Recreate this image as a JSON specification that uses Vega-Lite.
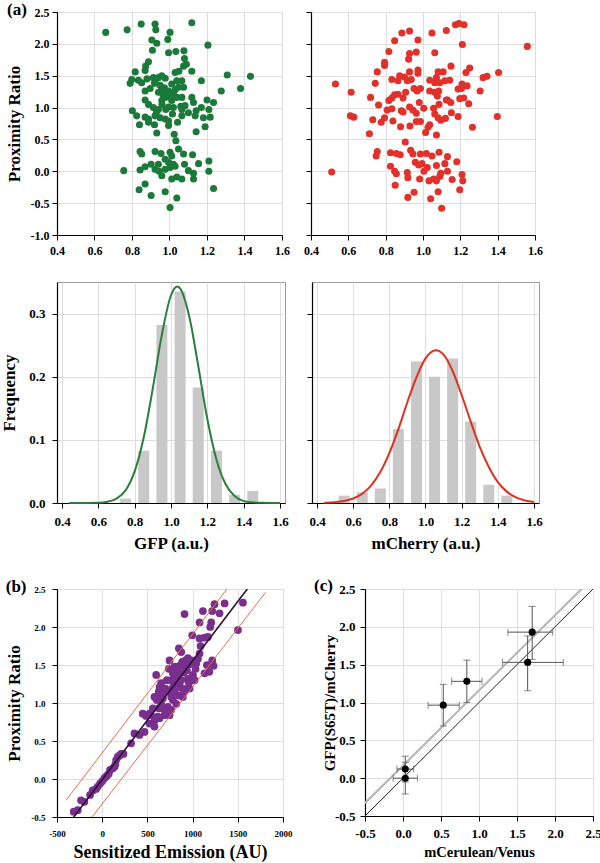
{
 "$schema": "https://vega.github.io/schema/vega-lite/v6.json",
 "padding": {"left": 0, "top": 0, "right": 0, "bottom": 0},
 "spacing": 24,
 "config": {
  "font": "Liberation Serif",
  "view": {"stroke": "#9a9a9a", "strokeWidth": 1},
  "axis": {"labelFont": "Liberation Serif", "labelFontWeight": "bold", "labelColor": "#000", "titleFont": "Liberation Serif", "titleFontWeight": "bold", "titleColor": "#000", "domainColor": "#000", "domainWidth": 1.2, "tickColor": "#000", "tickSize": 5, "gridColor": "#dedede", "gridWidth": 1, "labelFlush": false, "labelOverlap": false, "labelBound": false, "grid": true},
  "title": {"font": "Liberation Serif", "fontWeight": "bold", "fontSize": 17, "color": "#000", "anchor": "start", "offset": 0}
 },
 "datasets": {
  "gfp": [{"x":0.66,"y":2.18},{"x":0.774,"y":2.22},{"x":0.849,"y":2.31},{"x":0.923,"y":2.31},{"x":0.927,"y":2.22},{"x":1.003,"y":2.18},{"x":1.119,"y":2.33},{"x":0.906,"y":2.06},{"x":0.932,"y":2.01},{"x":0.991,"y":2.07},{"x":0.909,"y":1.9},{"x":0.995,"y":1.86},{"x":1.034,"y":1.88},{"x":1.077,"y":1.89},{"x":1.205,"y":1.98},{"x":1.08,"y":1.77},{"x":1.075,"y":1.65},{"x":1.09,"y":1.68},{"x":0.888,"y":1.72},{"x":0.873,"y":1.65},{"x":0.87,"y":1.58},{"x":0.817,"y":1.56},{"x":1.119,"y":1.57},{"x":1.05,"y":1.57},{"x":1.03,"y":1.55},{"x":1.17,"y":1.42},{"x":1.308,"y":1.51},{"x":1.432,"y":1.49},{"x":1.276,"y":1.26},{"x":1.379,"y":1.3},{"x":0.799,"y":1.44},{"x":0.79,"y":1.38},{"x":0.834,"y":1.43},{"x":0.852,"y":1.39},{"x":0.914,"y":1.47},{"x":0.923,"y":1.42},{"x":0.941,"y":1.47},{"x":0.959,"y":1.5},{"x":0.977,"y":1.46},{"x":1.012,"y":1.37},{"x":1.039,"y":1.42},{"x":1.048,"y":1.32},{"x":1.066,"y":1.42},{"x":1.075,"y":1.32},{"x":0.87,"y":1.26},{"x":0.897,"y":1.3},{"x":0.941,"y":1.24},{"x":0.959,"y":1.29},{"x":0.973,"y":1.31},{"x":0.986,"y":1.24},{"x":1.003,"y":1.18},{"x":0.995,"y":1.26},{"x":1.021,"y":1.21},{"x":1.039,"y":1.16},{"x":0.977,"y":1.16},{"x":0.959,"y":1.11},{"x":1.012,"y":1.11},{"x":1.066,"y":1.16},{"x":1.119,"y":1.16},{"x":1.128,"y":1.08},{"x":1.2,"y":1.12},{"x":1.235,"y":1.08},{"x":0.87,"y":1.12},{"x":0.888,"y":1.05},{"x":0.914,"y":1.0},{"x":0.941,"y":0.97},{"x":0.98,"y":0.97},{"x":0.995,"y":1.01},{"x":1.021,"y":1.0},{"x":1.066,"y":0.97},{"x":1.083,"y":1.03},{"x":1.101,"y":0.92},{"x":1.142,"y":0.95},{"x":1.17,"y":1.0},{"x":1.21,"y":0.97},{"x":0.802,"y":0.95},{"x":0.825,"y":0.87},{"x":0.87,"y":0.85},{"x":0.888,"y":0.82},{"x":0.923,"y":0.87},{"x":0.95,"y":0.84},{"x":0.977,"y":0.82},{"x":0.995,"y":0.79},{"x":1.016,"y":0.9},{"x":1.066,"y":0.87},{"x":1.137,"y":0.87},{"x":1.181,"y":0.84},{"x":1.217,"y":0.85},{"x":0.84,"y":0.73},{"x":0.888,"y":0.77},{"x":0.92,"y":0.73},{"x":0.995,"y":0.72},{"x":1.043,"y":0.77},{"x":1.19,"y":0.7},{"x":1.142,"y":0.62},{"x":0.932,"y":0.6},{"x":1.025,"y":0.58},{"x":1.034,"y":0.48},{"x":0.843,"y":0.31},{"x":0.852,"y":0.27},{"x":0.923,"y":0.31},{"x":0.955,"y":0.28},{"x":1.003,"y":0.3},{"x":1.012,"y":0.24},{"x":1.048,"y":0.35},{"x":1.075,"y":0.27},{"x":1.123,"y":0.26},{"x":0.977,"y":0.19},{"x":0.995,"y":0.14},{"x":1.021,"y":0.11},{"x":0.941,"y":0.11},{"x":0.902,"y":0.11},{"x":0.87,"y":0.07},{"x":0.843,"y":0.02},{"x":0.756,"y":0.01},{"x":0.923,"y":0.03},{"x":0.945,"y":0.0},{"x":0.977,"y":0.03},{"x":1.003,"y":0.06},{"x":1.03,"y":0.08},{"x":1.08,"y":0.11},{"x":1.101,"y":0.01},{"x":1.128,"y":-0.03},{"x":1.155,"y":0.12},{"x":1.21,"y":0.16},{"x":1.21,"y":0.0},{"x":0.959,"y":-0.07},{"x":1.012,"y":-0.12},{"x":1.039,"y":-0.09},{"x":1.066,"y":-0.12},{"x":1.128,"y":-0.12},{"x":0.87,"y":-0.2},{"x":0.838,"y":-0.29},{"x":1.235,"y":-0.27},{"x":0.977,"y":-0.32},{"x":0.902,"y":-0.38},{"x":1.039,"y":-0.42},{"x":1.003,"y":-0.57},{"x":1.0,"y":1.22},{"x":1.01,"y":1.15},{"x":0.965,"y":1.2},{"x":1.03,"y":1.28},{"x":0.95,"y":1.35},{"x":0.92,"y":1.38},{"x":0.88,"y":1.45},{"x":1.06,"y":1.02},{"x":0.93,"y":0.92},{"x":0.96,"y":1.05}],
  "mcherry": [{"x":1.174,"y":2.3},{"x":1.125,"y":2.21},{"x":1.192,"y":2.32},{"x":1.22,"y":2.3},{"x":1.048,"y":2.17},{"x":0.928,"y":2.2},{"x":0.887,"y":2.17},{"x":0.973,"y":2.06},{"x":0.848,"y":2.05},{"x":1.211,"y":1.99},{"x":1.559,"y":1.96},{"x":0.817,"y":1.88},{"x":0.928,"y":1.85},{"x":0.964,"y":1.87},{"x":1.063,"y":1.86},{"x":0.923,"y":1.76},{"x":0.794,"y":1.71},{"x":0.794,"y":1.66},{"x":0.755,"y":1.56},{"x":0.928,"y":1.56},{"x":0.973,"y":1.59},{"x":0.973,"y":1.54},{"x":1.081,"y":1.56},{"x":1.108,"y":1.56},{"x":1.15,"y":1.65},{"x":1.23,"y":1.55},{"x":1.25,"y":1.62},{"x":1.322,"y":1.47},{"x":1.343,"y":1.49},{"x":1.405,"y":1.55},{"x":0.531,"y":1.37},{"x":0.615,"y":1.24},{"x":0.744,"y":1.38},{"x":0.833,"y":1.44},{"x":0.866,"y":1.42},{"x":0.875,"y":1.5},{"x":0.901,"y":1.48},{"x":0.916,"y":1.42},{"x":0.937,"y":1.44},{"x":1.036,"y":1.43},{"x":1.063,"y":1.39},{"x":1.072,"y":1.47},{"x":1.09,"y":1.39},{"x":1.117,"y":1.42},{"x":1.143,"y":1.43},{"x":1.188,"y":1.29},{"x":1.209,"y":1.37},{"x":1.236,"y":1.34},{"x":1.206,"y":1.3},{"x":1.306,"y":1.26},{"x":0.952,"y":1.3},{"x":0.968,"y":1.26},{"x":0.986,"y":1.3},{"x":0.907,"y":1.24},{"x":1.036,"y":1.26},{"x":1.063,"y":1.24},{"x":1.077,"y":1.18},{"x":1.084,"y":1.26},{"x":0.719,"y":1.16},{"x":0.848,"y":1.2},{"x":0.833,"y":1.15},{"x":0.817,"y":1.11},{"x":0.866,"y":1.21},{"x":0.893,"y":1.15},{"x":0.98,"y":1.08},{"x":1.131,"y":1.12},{"x":1.149,"y":1.08},{"x":1.197,"y":1.14},{"x":1.218,"y":1.15},{"x":1.245,"y":1.06},{"x":0.762,"y":1.04},{"x":0.808,"y":0.96},{"x":0.833,"y":0.98},{"x":0.884,"y":0.95},{"x":0.893,"y":0.93},{"x":0.928,"y":1.01},{"x":0.946,"y":0.96},{"x":0.964,"y":0.91},{"x":1.004,"y":0.99},{"x":1.057,"y":0.99},{"x":1.086,"y":1.05},{"x":1.063,"y":0.9},{"x":1.081,"y":0.84},{"x":1.125,"y":1.12},{"x":1.152,"y":0.92},{"x":0.611,"y":0.87},{"x":0.629,"y":0.85},{"x":0.731,"y":0.81},{"x":0.794,"y":0.84},{"x":0.776,"y":0.77},{"x":0.839,"y":0.79},{"x":0.964,"y":0.78},{"x":0.986,"y":0.78},{"x":0.88,"y":0.7},{"x":0.93,"y":0.71},{"x":1.036,"y":0.73},{"x":1.027,"y":0.69},{"x":1.095,"y":0.8},{"x":1.12,"y":0.83},{"x":1.188,"y":0.86},{"x":1.398,"y":0.86},{"x":1.265,"y":0.69},{"x":0.713,"y":0.59},{"x":1.014,"y":0.61},{"x":1.072,"y":0.57},{"x":0.905,"y":0.46},{"x":0.755,"y":0.31},{"x":0.749,"y":0.24},{"x":0.826,"y":0.29},{"x":0.857,"y":0.28},{"x":0.878,"y":0.26},{"x":0.934,"y":0.33},{"x":0.946,"y":0.27},{"x":0.986,"y":0.27},{"x":1.018,"y":0.28},{"x":1.048,"y":0.24},{"x":1.086,"y":0.3},{"x":1.131,"y":0.23},{"x":1.181,"y":0.15},{"x":0.959,"y":0.14},{"x":0.977,"y":0.1},{"x":0.995,"y":0.12},{"x":1.023,"y":0.06},{"x":1.072,"y":0.09},{"x":1.117,"y":0.12},{"x":0.826,"y":0.08},{"x":0.848,"y":0.0},{"x":0.857,"y":-0.04},{"x":0.916,"y":-0.02},{"x":0.919,"y":-0.1},{"x":1.005,"y":0.0},{"x":0.982,"y":-0.12},{"x":1.032,"y":-0.15},{"x":1.057,"y":-0.12},{"x":1.072,"y":-0.15},{"x":1.09,"y":-0.08},{"x":1.095,"y":-0.03},{"x":1.131,"y":0.0},{"x":1.156,"y":-0.13},{"x":1.209,"y":-0.05},{"x":1.213,"y":-0.15},{"x":0.511,"y":-0.01},{"x":0.851,"y":-0.22},{"x":1.081,"y":-0.32},{"x":1.197,"y":-0.29},{"x":0.952,"y":-0.33},{"x":0.919,"y":-0.41},{"x":1.041,"y":-0.43},{"x":1.1,"y":-0.58}],
  "gfpHist": [{"x":0.75,"y":0.007},{"x":0.85,"y":0.083},{"x":0.95,"y":0.282},{"x":1.05,"y":0.335},{"x":1.15,"y":0.183},{"x":1.25,"y":0.083},{"x":1.35,"y":0.013},{"x":1.45,"y":0.019}],
  "gfpFit": [{"x":0.44,"y":0.0},{"x":0.6,"y":0.0005},{"x":0.65,"y":0.002},{"x":0.7,"y":0.007},{"x":0.75,"y":0.02},{"x":0.8,"y":0.05},{"x":0.85,"y":0.104},{"x":0.9,"y":0.182},{"x":0.95,"y":0.267},{"x":1.0,"y":0.329},{"x":1.035,"y":0.343},{"x":1.05,"y":0.34},{"x":1.1,"y":0.296},{"x":1.15,"y":0.217},{"x":1.2,"y":0.133},{"x":1.25,"y":0.069},{"x":1.3,"y":0.03},{"x":1.35,"y":0.011},{"x":1.4,"y":0.003},{"x":1.45,"y":0.001},{"x":1.5,"y":0.0002},{"x":1.6,"y":0.0}],
  "mchHist": [{"x":0.55,"y":0.0116},{"x":0.65,"y":0.017},{"x":0.75,"y":0.023},{"x":0.85,"y":0.117},{"x":0.95,"y":0.224},{"x":1.05,"y":0.2},{"x":1.15,"y":0.229},{"x":1.25,"y":0.129},{"x":1.35,"y":0.029},{"x":1.45,"y":0.0116}],
  "mchFit": [{"x":0.44,"y":0.0004},{"x":0.5,"y":0.0013},{"x":0.55,"y":0.0031},{"x":0.6,"y":0.0071},{"x":0.65,"y":0.0147},{"x":0.7,"y":0.028},{"x":0.75,"y":0.049},{"x":0.8,"y":0.079},{"x":0.85,"y":0.117},{"x":0.9,"y":0.16},{"x":0.95,"y":0.199},{"x":1.0,"y":0.229},{"x":1.057,"y":0.242},{"x":1.1,"y":0.235},{"x":1.15,"y":0.209},{"x":1.2,"y":0.171},{"x":1.25,"y":0.129},{"x":1.3,"y":0.089},{"x":1.35,"y":0.057},{"x":1.4,"y":0.033},{"x":1.45,"y":0.018},{"x":1.5,"y":0.0088},{"x":1.55,"y":0.004},{"x":1.6,"y":0.0017}],
  "se": [{"x":-315,"y":-0.43},{"x":-271,"y":-0.41},{"x":-234,"y":-0.28},{"x":-197,"y":-0.3},{"x":-134,"y":-0.21},{"x":-105,"y":-0.15},{"x":-68,"y":-0.13},{"x":-49,"y":-0.1},{"x":-24,"y":-0.06},{"x":-1,"y":-0.03},{"x":24,"y":0.01},{"x":50,"y":0.04},{"x":72,"y":0.07},{"x":87,"y":0.12},{"x":117,"y":0.14},{"x":135,"y":0.16},{"x":146,"y":0.19},{"x":154,"y":0.25},{"x":172,"y":0.29},{"x":191,"y":0.31},{"x":209,"y":0.33},{"x":235,"y":0.33},{"x":320,"y":0.47},{"x":357,"y":0.6},{"x":412,"y":0.58},{"x":468,"y":0.62},{"x":523,"y":0.73},{"x":449,"y":0.86},{"x":486,"y":0.83},{"x":541,"y":0.84},{"x":578,"y":0.77},{"x":615,"y":0.82},{"x":560,"y":0.93},{"x":626,"y":0.93},{"x":634,"y":0.8},{"x":578,"y":0.69},{"x":652,"y":0.99},{"x":671,"y":1.06},{"x":671,"y":0.93},{"x":708,"y":0.88},{"x":726,"y":0.95},{"x":689,"y":0.84},{"x":745,"y":0.84},{"x":597,"y":1.37},{"x":634,"y":1.21},{"x":652,"y":1.26},{"x":678,"y":1.13},{"x":700,"y":1.19},{"x":715,"y":1.3},{"x":737,"y":1.45},{"x":745,"y":1.56},{"x":763,"y":1.08},{"x":782,"y":1.21},{"x":800,"y":1.15},{"x":819,"y":1.26},{"x":826,"y":1.35},{"x":837,"y":1.41},{"x":848,"y":1.1},{"x":863,"y":1.21},{"x":874,"y":1.3},{"x":892,"y":1.08},{"x":892,"y":1.19},{"x":900,"y":1.4},{"x":911,"y":1.49},{"x":922,"y":1.56},{"x":937,"y":1.43},{"x":948,"y":1.32},{"x":959,"y":1.26},{"x":966,"y":1.51},{"x":985,"y":1.56},{"x":1003,"y":1.37},{"x":1022,"y":1.3},{"x":1033,"y":1.45},{"x":1059,"y":1.58},{"x":1077,"y":1.65},{"x":874,"y":1.67},{"x":848,"y":1.72},{"x":911,"y":2.17},{"x":996,"y":1.89},{"x":1077,"y":2.06},{"x":1077,"y":1.85},{"x":1088,"y":1.75},{"x":1132,"y":1.86},{"x":1169,"y":1.87},{"x":1195,"y":2.0},{"x":1206,"y":2.06},{"x":1114,"y":2.21},{"x":1217,"y":2.21},{"x":1298,"y":2.18},{"x":1243,"y":2.3},{"x":1354,"y":2.31},{"x":1557,"y":2.32},{"x":1502,"y":1.96},{"x":1158,"y":1.5},{"x":1217,"y":1.56},{"x":1232,"y":1.49},{"x":1132,"y":1.39},{"x":1184,"y":1.41},{"x":966,"y":1.19},{"x":819,"y":0.99},{"x":782,"y":1.04},{"x":634,"y":1.08},{"x":604,"y":1.04},{"x":578,"y":1.08},{"x":626,"y":1.15},{"x":745,"y":1.15},{"x":763,"y":1.3},{"x":782,"y":1.39},{"x":800,"y":1.48},{"x":855,"y":1.49},{"x":885,"y":1.54},{"x":948,"y":1.59},{"x":1040,"y":1.52},{"x":911,"y":1.15},{"x":763,"y":0.91},{"x":523,"y":0.86}],
  "seFit": [{"x":-315,"y":-0.5},{"x":1605,"y":2.5}],
  "seBand": [{"band":"upper","x":-400,"y":-0.28},{"band":"upper","x":1380,"y":2.5},{"band":"lower","x":-112,"y":-0.5},{"band":"lower","x":1808,"y":2.456}],
  "cmp": [{"x":0.03,"y":0.12,"xlo":-0.08,"xhi":0.14,"ylo":-0.05,"yhi":0.29},{"x":0.03,"y":0.0,"xlo":-0.13,"xhi":0.19,"ylo":-0.21,"yhi":0.21},{"x":0.53,"y":0.965,"xlo":0.33,"xhi":0.74,"ylo":0.69,"yhi":1.24},{"x":0.84,"y":1.28,"xlo":0.64,"xhi":1.04,"ylo":1.0,"yhi":1.56},{"x":1.64,"y":1.53,"xlo":1.31,"xhi":2.11,"ylo":1.155,"yhi":1.88},{"x":1.7,"y":1.93,"xlo":1.38,"xhi":1.97,"ylo":1.57,"yhi":2.27}],
  "cmpIdentity": [{"x":-0.5,"y":-0.5},{"x":2.5,"y":2.5}],
  "cmpFit": [{"x":-0.5,"y":-0.33},{"x":2.35,"y":2.5}]
 },
 "vconcat": [
  {
   "hconcat": [
    {
     "width": 225, "height": 223,
     "title": {"text": "(a)", "frame": "bounds", "dy": 11, "dx": 2, "offset": -2},
     "data": {"name": "gfp"},
     "mark": {"type": "circle", "size": 50, "opacity": 1, "color": "#1b7a3a"},
     "encoding": {
      "x": {"field": "x", "type": "quantitative", "scale": {"domain": [0.4, 1.6], "nice": false, "zero": false}, "axis": {"values": [0.4,0.6,0.8,1.0,1.2,1.4,1.6], "format": ".1f", "title": null, "labelFontSize": 12, "labelPadding": 5}},
      "y": {"field": "y", "type": "quantitative", "scale": {"domain": [-1, 2.5], "nice": false, "zero": false}, "axis": {"values": [-1,-0.5,0,0.5,1,1.5,2,2.5], "format": ".1f", "labelExpr": "replace(datum.label, '\u2212', '-')", "title": "Proximity Ratio", "titleFontSize": 17, "labelFontSize": 12, "labelPadding": 3, "titlePadding": 7}}
     }
    },
    {
     "width": 224, "height": 223,
     "data": {"name": "mcherry"},
     "mark": {"type": "circle", "size": 50, "opacity": 1, "color": "#e2302a"},
     "encoding": {
      "x": {"field": "x", "type": "quantitative", "scale": {"domain": [0.4, 1.6], "nice": false, "zero": false}, "axis": {"values": [0.4,0.6,0.8,1.0,1.2,1.4,1.6], "format": ".1f", "title": null, "labelFontSize": 12, "labelPadding": 5}},
      "y": {"field": "y", "type": "quantitative", "scale": {"domain": [-1, 2.5], "nice": false, "zero": false}, "axis": {"values": [-1,-0.5,0,0.5,1,1.5,2,2.5], "labels": false, "title": null}}
     }
    }
   ],
   "spacing": 29, "bounds": "flush"
  },
  {
   "hconcat": [
    {
     "width": 228, "height": 221,
     "encoding": {
      "x": {"field": "x", "type": "quantitative", "scale": {"domain": [0.4, 1.6], "nice": false, "zero": false}, "axis": {"values": [0.4,0.6,0.8,1.0,1.2,1.4,1.6], "format": ".1f", "title": "GFP (a.u.)", "titleFontSize": 17, "titlePadding": 7, "labelFontSize": 13, "labelPadding": 7}},
      "y": {"field": "y", "type": "quantitative", "scale": {"domain": [0, 0.35], "nice": false, "zero": false}, "axis": {"values": [0, 0.1, 0.2, 0.3], "format": ".1f", "title": "Frequency", "titleFontSize": 17, "titlePadding": 10, "labelFontSize": 13, "labelPadding": 7}}
     },
     "layer": [
      {"data": {"name": "gfpHist"}, "mark": {"type": "bar", "size": 11, "color": "#c8c8c8"}},
      {"data": {"name": "gfpFit"}, "mark": {"type": "line", "interpolate": "monotone", "color": "#2a7f3a", "strokeWidth": 2}}
     ]
    },
    {
     "width": 227, "height": 221,
     "encoding": {
      "x": {"field": "x", "type": "quantitative", "scale": {"domain": [0.4, 1.6], "nice": false, "zero": false}, "axis": {"values": [0.4,0.6,0.8,1.0,1.2,1.4,1.6], "format": ".1f", "title": "mCherry (a.u.)", "titleFontSize": 17, "titlePadding": 7, "labelFontSize": 13, "labelPadding": 7}},
      "y": {"field": "y", "type": "quantitative", "scale": {"domain": [0, 0.35], "nice": false, "zero": false}, "axis": {"values": [0, 0.1, 0.2, 0.3], "labels": false, "title": null}}
     },
     "layer": [
      {"data": {"name": "mchHist"}, "mark": {"type": "bar", "size": 11, "color": "#c8c8c8"}},
      {"data": {"name": "mchFit"}, "mark": {"type": "line", "interpolate": "monotone", "color": "#e2301f", "strokeWidth": 2}}
     ]
    }
   ],
   "spacing": 27, "bounds": "flush"
  },
  {
   "hconcat": [
    {
     "width": 226, "height": 228,
     "title": {"text": "(b)", "frame": "bounds", "dy": 15, "dx": 0},
     "encoding": {
      "x": {"field": "x", "type": "quantitative", "scale": {"domain": [-500, 2000], "nice": false, "zero": false}, "axis": {"values": [-500,0,500,1000,1500,2000], "format": "d", "labelExpr": "replace(datum.label, '\u2212', '-')", "title": "Sensitized Emission (AU)", "titleFontSize": 18, "titlePadding": 5, "labelFontSize": 9, "labelPadding": 7}},
      "y": {"field": "y", "type": "quantitative", "scale": {"domain": [-0.5, 2.5], "nice": false, "zero": false}, "axis": {"values": [-0.5,0,0.5,1,1.5,2,2.5], "format": ".1f", "labelExpr": "replace(datum.label, '\u2212', '-')", "title": "Proximity Ratio", "titleFontSize": 17, "titlePadding": 7, "labelFontSize": 9, "labelPadding": 7}}
     },
     "layer": [
      {"data": {"name": "se"}, "mark": {"type": "circle", "size": 60, "opacity": 1, "color": "#7a2e8e"}},
      {"data": {"name": "seBand"}, "mark": {"type": "line", "color": "#ef6a45", "strokeWidth": 1, "clip": true}, "encoding": {"detail": {"field": "band"}}},
      {"data": {"name": "seFit"}, "mark": {"type": "line", "color": "#2a0f36", "strokeWidth": 1.6, "clip": true}}
     ]
    },
    {
     "width": 228, "height": 227,
     "title": {"text": "(c)", "frame": "group", "dy": 16, "dx": -51},
     "encoding": {
      "x": {"field": "x", "type": "quantitative", "scale": {"domain": [-0.5, 2.5], "nice": false, "zero": false}, "axis": {"values": [-0.5,0,0.5,1,1.5,2,2.5], "format": ".1f", "labelExpr": "replace(datum.label, '\u2212', '-')", "title": "mCerulean/Venus", "titleFontSize": 14.5, "titlePadding": 5, "labelFontSize": 13, "labelPadding": 6}},
      "y": {"field": "y", "type": "quantitative", "scale": {"domain": [-0.5, 2.5], "nice": false, "zero": false}, "axis": {"values": [-0.5,0,0.5,1,1.5,2,2.5], "format": ".1f", "labelExpr": "replace(datum.label, '\u2212', '-')", "title": "GFP(S65T)/mCherry", "titleFontSize": 15, "titlePadding": -3, "labelFontSize": 13, "labelPadding": 5}}
     },
     "layer": [
      {"data": {"name": "cmpIdentity"}, "mark": {"type": "line", "color": "#222", "strokeWidth": 1, "clip": true}},
      {"data": {"name": "cmpFit"}, "mark": {"type": "line", "color": "#b8b8b8", "strokeWidth": 2.2, "clip": true}},
      {"data": {"name": "cmp"}, "mark": {"type": "errorbar", "ticks": {"size": 7}, "color": "#555"}, "encoding": {"x": {"field": "xlo", "type": "quantitative"}, "x2": {"field": "xhi"}, "y": {"field": "y", "type": "quantitative"}}},
      {"data": {"name": "cmp"}, "mark": {"type": "errorbar", "ticks": {"size": 7}, "color": "#555"}, "encoding": {"y": {"field": "ylo", "type": "quantitative"}, "y2": {"field": "yhi"}, "x": {"field": "x", "type": "quantitative"}}},
      {"data": {"name": "cmp"}, "mark": {"type": "circle", "size": 50, "opacity": 1, "color": "#000"}}
     ]
    }
   ],
   "spacing": 82, "bounds": "flush"
  }
 ]
}
